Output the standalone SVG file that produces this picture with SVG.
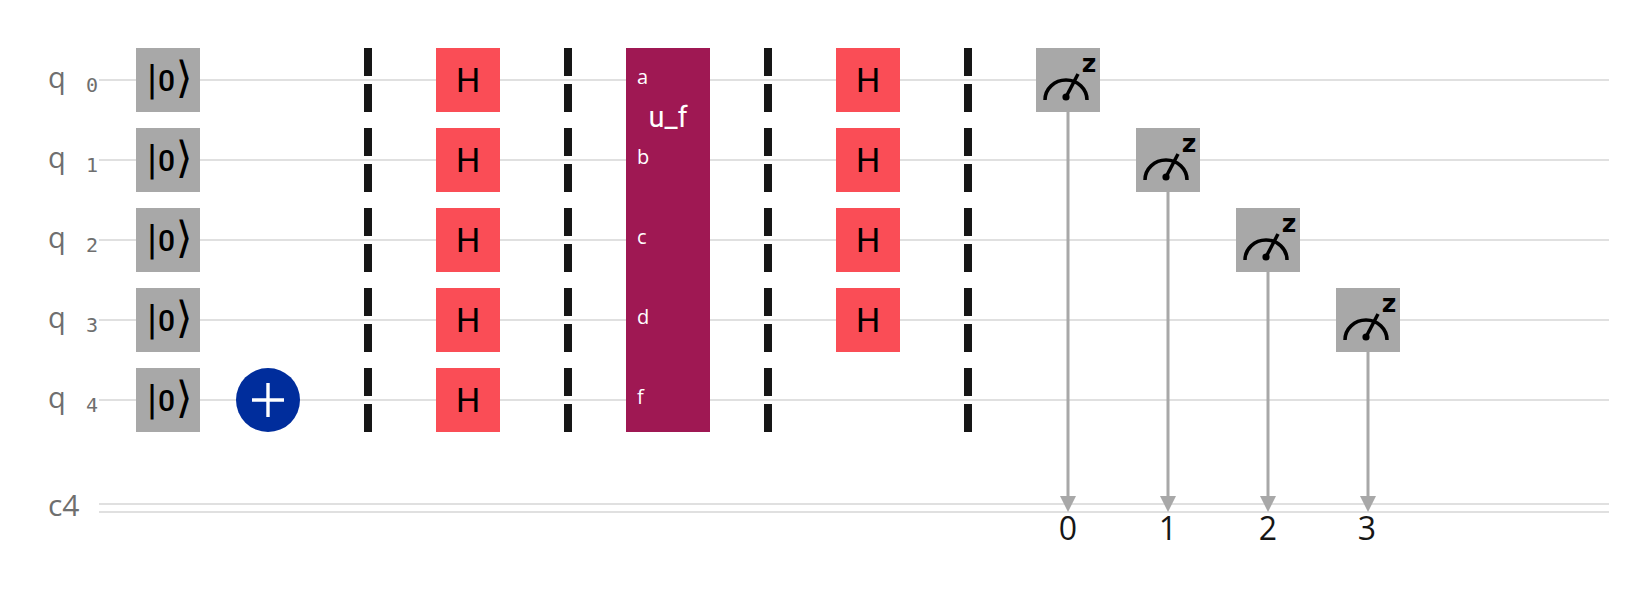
<svg xmlns="http://www.w3.org/2000/svg" width="1628" height="592" viewBox="0 0 1628 592">
<style>
.w{stroke:#e0e0e0;stroke-width:2;fill:none}
.g{fill:#a8a8a8}
.h{fill:#fa4d56}
.bar{fill:#161616}
.lab{font-family:"Open Sans","DejaVu Sans",sans-serif;fill:#6f6f6f;font-size:29px}
.idx{font-family:"DejaVu Sans Mono","Liberation Mono",monospace;fill:#6f6f6f;font-size:20px;text-anchor:end}
.ht{font-family:"Roboto","Liberation Sans",sans-serif;fill:#000;font-size:34px;text-anchor:middle}
.ket{font-family:"DejaVu Sans Mono",monospace;fill:#000;text-anchor:middle;font-weight:400}
.q{font-family:"Open Sans","Liberation Sans",sans-serif;fill:#fff;font-size:20px}
.num{font-family:"Open Sans","Liberation Sans",sans-serif;fill:#161616;font-size:32px;text-anchor:middle}
.ml{stroke:#a8a8a8;stroke-width:3;fill:none}
.ah{fill:#a8a8a8}
.ic{stroke:#000;stroke-width:3.5;fill:none}
</style>
<defs>
<g id="measure">
<rect class="g" x="-32" y="-32" width="64" height="64"/>
<path class="ic" d="M-23 20 A 21 20 0 0 1 19 20"/>
<path class="ic" d="M-2 17 L10 -6"/>
<circle cx="-2" cy="17" r="3.6" fill="#000"/>
<text x="21" y="-8" font-family="'DejaVu Sans',sans-serif" font-weight="700" font-size="25" fill="#000" text-anchor="middle">z</text>
</g>
<g id="ket">
<rect class="g" x="-32" y="-32" width="64" height="64"/>
<text class="ket" x="-16" y="11" font-size="35">|</text>
<text x="-1.5" y="11" font-size="30" font-weight="500" font-family="Roboto,sans-serif" fill="#000" text-anchor="middle">0</text>
<text class="ket" x="16" y="12" font-size="43">⟩</text>
</g>
<g id="hg"><rect class="h" x="-32" y="-32" width="64" height="64"/><text class="ht" x="0" y="11.5">H</text></g>
<g id="bar"><rect class="bar" x="-4" y="-32" width="8" height="28"/><rect class="bar" x="-4" y="4" width="8" height="28"/></g>
</defs>
<g id="connectors">
<line class="w" x1="99" y1="80" x2="1609" y2="80"/>
<line class="w" x1="99" y1="160" x2="1609" y2="160"/>
<line class="w" x1="99" y1="240" x2="1609" y2="240"/>
<line class="w" x1="99" y1="320" x2="1609" y2="320"/>
<line class="w" x1="99" y1="400" x2="1609" y2="400"/>
<line class="w" x1="99" y1="504" x2="1609" y2="504"/>
<line class="w" x1="99" y1="512" x2="1609" y2="512"/>
<g id="measure-links">
<line class="ml" x1="1068" y1="112" x2="1068" y2="497"/><path class="ah" d="M1060 496H1076L1068 512Z"/>
<line class="ml" x1="1168" y1="192" x2="1168" y2="497"/><path class="ah" d="M1160 496H1176L1168 512Z"/>
<line class="ml" x1="1268" y1="272" x2="1268" y2="497"/><path class="ah" d="M1260 496H1276L1268 512Z"/>
<line class="ml" x1="1368" y1="352" x2="1368" y2="497"/><path class="ah" d="M1360 496H1376L1368 512Z"/>
</g>
</g>
<g id="labels">
<text class="lab" x="48" y="88">q</text><text class="idx" x="98" y="92">0</text>
<text class="lab" x="48" y="168">q</text><text class="idx" x="98" y="172">1</text>
<text class="lab" x="48" y="248">q</text><text class="idx" x="98" y="252">2</text>
<text class="lab" x="48" y="328">q</text><text class="idx" x="98" y="332">3</text>
<text class="lab" x="48" y="408">q</text><text class="idx" x="98" y="412">4</text>
<text class="lab" x="48" y="516" style="font-size:30px">c4</text>
</g>
<g id="ket0" transform="translate(168,80)"><use href="#ket"/></g>
<g id="ket1" transform="translate(168,160)"><use href="#ket"/></g>
<g id="ket2" transform="translate(168,240)"><use href="#ket"/></g>
<g id="ket3" transform="translate(168,320)"><use href="#ket"/></g>
<g id="ket4" transform="translate(168,400)"><use href="#ket"/></g>
<g id="x4"><circle cx="268" cy="400" r="32" fill="#002d9c"/><path d="M268 383V417M252 400H284" stroke="#fff" stroke-width="3.4" fill="none"/></g>
<g id="barrier1"><use href="#bar" x="368" y="80"/><use href="#bar" x="368" y="160"/><use href="#bar" x="368" y="240"/><use href="#bar" x="368" y="320"/><use href="#bar" x="368" y="400"/></g>
<g id="h-a0" transform="translate(468,80)"><use href="#hg"/></g>
<g id="h-a1" transform="translate(468,160)"><use href="#hg"/></g>
<g id="h-a2" transform="translate(468,240)"><use href="#hg"/></g>
<g id="h-a3" transform="translate(468,320)"><use href="#hg"/></g>
<g id="h-a4" transform="translate(468,400)"><use href="#hg"/></g>
<g id="barrier2"><use href="#bar" x="568" y="80"/><use href="#bar" x="568" y="160"/><use href="#bar" x="568" y="240"/><use href="#bar" x="568" y="320"/><use href="#bar" x="568" y="400"/></g>
<g id="uf">
<rect x="626" y="48" width="84" height="384" fill="#9f1853"/>
<text x="668" y="127" font-family="'Roboto','Liberation Sans',sans-serif" font-size="29" fill="#fff" text-anchor="middle">u_f</text>
<text class="q" x="637" y="84">a</text>
<text class="q" x="637" y="164">b</text>
<text class="q" x="637" y="244">c</text>
<text class="q" x="637" y="324">d</text>
<text class="q" x="637" y="404">f</text>
</g>
<g id="barrier3"><use href="#bar" x="768" y="80"/><use href="#bar" x="768" y="160"/><use href="#bar" x="768" y="240"/><use href="#bar" x="768" y="320"/><use href="#bar" x="768" y="400"/></g>
<g id="h-b0" transform="translate(868,80)"><use href="#hg"/></g>
<g id="h-b1" transform="translate(868,160)"><use href="#hg"/></g>
<g id="h-b2" transform="translate(868,240)"><use href="#hg"/></g>
<g id="h-b3" transform="translate(868,320)"><use href="#hg"/></g>
<g id="barrier4"><use href="#bar" x="968" y="80"/><use href="#bar" x="968" y="160"/><use href="#bar" x="968" y="240"/><use href="#bar" x="968" y="320"/><use href="#bar" x="968" y="400"/></g>
<g id="m0" transform="translate(1068,80)"><use href="#measure"/></g>
<g id="m1" transform="translate(1168,160)"><use href="#measure"/></g>
<g id="m2" transform="translate(1268,240)"><use href="#measure"/></g>
<g id="m3" transform="translate(1368,320)"><use href="#measure"/></g>
<g id="bits">
<text class="num" x="1068" y="540">0</text>
<text class="num" x="1168" y="540">1</text>
<text class="num" x="1268" y="540">2</text>
<text class="num" x="1367" y="540">3</text>
</g>
</svg>
